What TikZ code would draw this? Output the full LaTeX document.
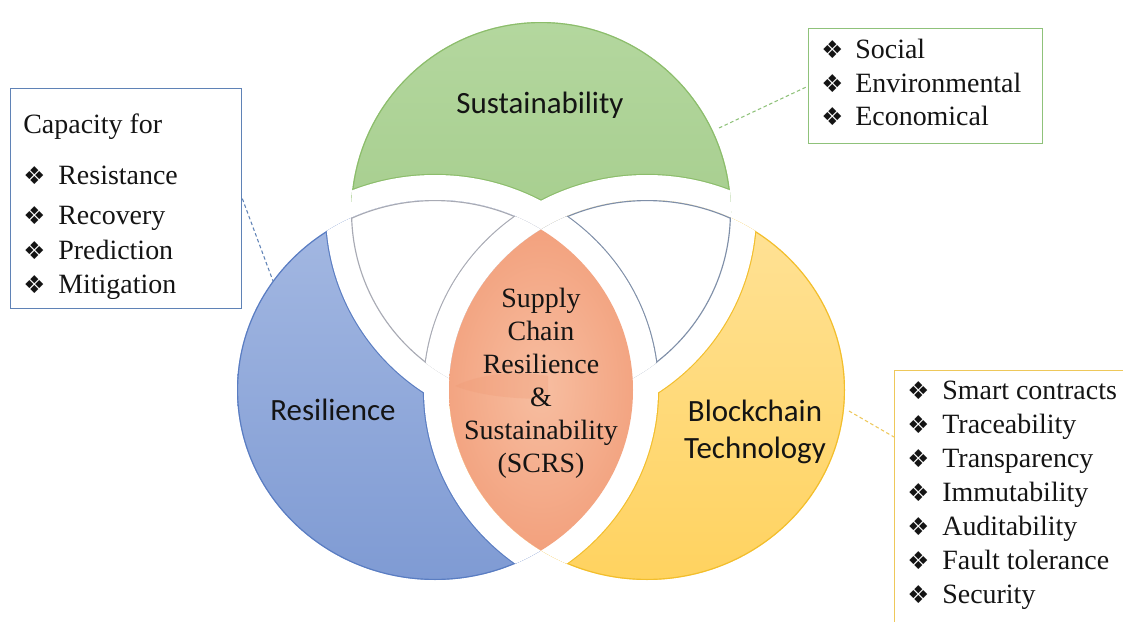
\documentclass[tikz,border=0pt]{standalone}
\usepackage{fontspec}
\setmainfont{Liberation Serif}
\newfontfamily\calfont{Carlito}
\newfontfamily\dvfont{DejaVu Sans}
\usetikzlibrary{calc}
\definecolor{gTop}{HTML}{B5D8A0}
\definecolor{gBot}{HTML}{9BC680}
\definecolor{gLine}{HTML}{8CBD6B}
\definecolor{bTop}{HTML}{A6BAE3}
\definecolor{bBot}{HTML}{7E9AD3}
\definecolor{bLine}{HTML}{5A7DC2}
\definecolor{yTop}{HTML}{FFE39A}
\definecolor{yBot}{HTML}{FFD25E}
\definecolor{yLine}{HTML}{F2BE2C}
\definecolor{oIn}{HTML}{F7BEA1}
\definecolor{oOut}{HTML}{F29F7B}
\definecolor{oWedge}{HTML}{EE9670}
\definecolor{wLineL}{HTML}{A8AAB4}
\definecolor{wLineR}{HTML}{7F8FA8}
\definecolor{boxB}{HTML}{5F82B6}
\definecolor{boxG}{HTML}{8FC27A}
\definecolor{boxY}{HTML}{EEC85A}
\definecolor{txt}{HTML}{141414}
\def\pTs{(541,212) ellipse [x radius=190,y radius=190]}
\def\pTe{(541,212) ellipse [x radius=215,y radius=215]}
\def\pLs{(435,390) ellipse [x radius=198,y radius=190]}
\def\pLe{(435,390) ellipse [x radius=223,y radius=215]}
\def\pRs{(647,390) ellipse [x radius=198,y radius=190]}
\def\pRe{(647,390) ellipse [x radius=223,y radius=215]}
\begin{document}
\begin{tikzpicture}[x=0.02cm,y=-0.02cm,
  serif/.style={font=\fontsize{15.9}{19}\selectfont, text=txt, inner sep=0pt, anchor=base west},
  bul/.style={font=\dvfont\fontsize{14}{16}\selectfont, text=txt, inner sep=0pt, anchor=base west},
  sanslbl/.style={font=\calfont\fontsize{17.6}{21}\selectfont, text=txt, inner sep=0pt, anchor=base},
  ctrtxt/.style={font=\fontsize{15.9}{19}\selectfont, text=txt, inner sep=0pt, anchor=base},
  conn/.style={dash pattern=on 2pt off 1.5pt, line width=0.6pt},
  edgeA/.style={line width=1.3pt},
  boxstyle/.style={draw, line width=0.8pt, inner sep=0pt, anchor=north west}]
\useasboundingbox (0,0) rectangle (1123,622);
\fill[white] (0,0) rectangle (1123,622);

% green: sustainability
\begin{scope}
  \clip \pTs;
  \shade[top color=gTop,bottom color=gBot] (330,0) rectangle (760,410);
  \draw[gLine,edgeA] \pTs;
  \draw[gLine,edgeA] \pLe;
  \draw[gLine,edgeA] \pRe;
  \fill[white] \pLe;
  \fill[white] \pRe;
\end{scope}
% blue: resilience
\begin{scope}
  \clip \pLs;
  \shade[top color=bTop,bottom color=bBot] (230,190) rectangle (640,590);
  \draw[bLine,edgeA] \pLs;
  \draw[bLine,edgeA] \pTe;
  \draw[bLine,edgeA] \pRe;
  \fill[white] \pTe;
  \fill[white] \pRe;
\end{scope}
% yellow: blockchain
\begin{scope}
  \clip \pRs;
  \shade[top color=yTop,bottom color=yBot] (440,190) rectangle (850,590);
  \draw[yLine,edgeA] \pRs;
  \draw[yLine,edgeA] \pTe;
  \draw[yLine,edgeA] \pLe;
  \fill[white] \pTe;
  \fill[white] \pLe;
\end{scope}
% white top-left
\begin{scope}
  \clip \pTs;
  \clip \pLs;
  \fill[white] (300,150) rectangle (700,450);
  \draw[wLineL,edgeA] \pTs;
  \draw[wLineL,edgeA] \pLs;
  \draw[wLineL,edgeA] \pRe;
  \fill[white] \pRe;
\end{scope}
% white top-right
\begin{scope}
  \clip \pTs;
  \clip \pRs;
  \fill[white] (300,150) rectangle (800,450);
  \draw[wLineR,edgeA] \pTs;
  \draw[wLineR,edgeA] \pRs;
  \draw[wLineR,edgeA] \pLe;
  \fill[white] \pLe;
\end{scope}
% orange centre
\begin{scope}
  \clip \pLs;
  \clip \pRs;
  \shade[inner color=oIn,outer color=oOut] (430,215) rectangle (652,560);
  \fill[oWedge,opacity=0.25] (455,386) .. controls (480,374) and (515,370) .. (548,376)
        -- (548,399) .. controls (515,399) and (480,396) .. (455,386) -- cycle;
\end{scope}

% labels in the circles
\node[sanslbl] (tsus) at (540,113) {Sustainability};
\node[sanslbl] (tres) at (333,420) {Resilience};
\node[sanslbl] (tblk1) at (755,421) {Blockchain};
\node[sanslbl] (tblk2) at (755,458) {Technology};
\foreach \w/\yy [count=\k] in {Supply/307, Chain/340, Resilience/373, \&/406, Sustainability/439, (SCRS)/472}
  \node[ctrtxt] (tc\k) at (541,\yy) {\w};

% left box
\node[boxstyle, draw=boxB, minimum width=4.62cm, minimum height=4.4cm] (capbox) at (10,88) {};
\node[serif] (caphead) at (23,133) {Capacity for};
\foreach \w/\yy [count=\k] in {Resistance/184, Recovery/224, Prediction/259, Mitigation/293} {
  \node[bul] (capb\k) at (23,\yy) {❖};
  \node[serif] (capt\k) at (58,\yy) {\w};
}
% top right box
\node[boxstyle, draw=boxG, minimum width=4.68cm, minimum height=2.3cm] (susbox) at (808,28) {};
\foreach \w/\yy [count=\k] in {Social/58, Environmental/92, Economical/125} {
  \node[bul] (susb\k) at (821,\yy) {❖};
  \node[serif] (sust\k) at (855,\yy) {\w};
}
% bottom right box
\node[boxstyle, draw=boxY, minimum width=5.4cm, minimum height=5.8cm] (blkbox) at (894,370) {};
\foreach \w/\yy [count=\k] in {Smart contracts/399, Traceability/433, Transparency/467, Immutability/501, Auditability/535, Fault tolerance/569, Security/603} {
  \node[bul] (blkb\k) at (907,\yy) {❖};
  \node[serif] (blkt\k) at (942,\yy) {\w};
}

% dashed connectors
\coordinate (resE) at (273,281);
\coordinate (susE) at (719,128);
\coordinate (blkE) at (849,411);
\coordinate (blkW) at ($(blkbox.north west)!0.23!(blkbox.south west)$);
\draw[conn, boxB] (capbox.east) -- (resE);
\draw[conn, boxG] (susE) -- (susbox.west);
\draw[conn, boxY] (blkE) -- (blkW);
\end{tikzpicture}
\end{document}
